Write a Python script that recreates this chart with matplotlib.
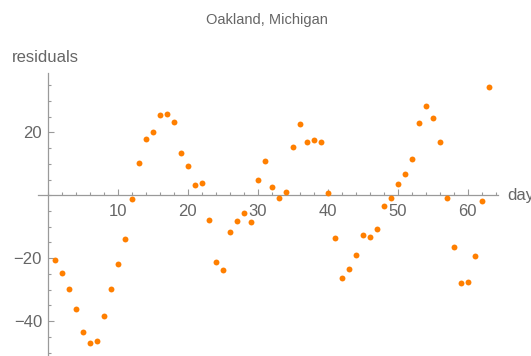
import numpy as np
import matplotlib
matplotlib.use('Agg')
import matplotlib.pyplot as plt
from matplotlib.ticker import MultipleLocator

# Данные: остатки по дням
days = list(range(1, 64))
residuals = [
    -20.5, -24.8, -29.9, -36.0, -43.5, -46.9, -46.2, -38.4, -29.7, -21.8,
    -14.0, -1.2, 10.3, 17.9, 20.1, 25.6, 25.9, 23.4, 13.4, 9.4,
    3.3, 3.8, -8.0, -21.3, -23.9, -11.6, -8.3, -5.7, -8.6, 4.8,
    10.8, 2.7, -0.7, 1.2, 15.4, 22.6, 16.8, 17.5, 16.9, 0.8,
    -13.7, -26.3, -23.4, -19.0, -12.7, -13.3, -10.6, -3.3, -0.7, 3.5,
    6.7, 11.4, 22.9, 28.4, 24.6, 17.0, -1.0, -16.4, -28.0, -27.6,
    -19.4, -1.8, 34.5,
]
x_ticks = [10, 20, 30, 40, 50, 60]
y_ticks = [-40, -20, 20]

title_text = 'Oakland, Michigan'
x_label = 'days'
y_label = 'residuals'

TEXT_COLOR = '#666666'
AXIS_COLOR = '#9a9a9a'
POINT_COLOR = '#ff7f00'


def plot_residuals():
    plt.rcParams['font.family'] = ['Liberation Sans', 'DejaVu Sans']

    fig = plt.figure(figsize=(5.31, 3.56), dpi=100)
    ax = fig.add_axes([38 / 531, 0, (497.7 - 38) / 531, (356 - 73.3) / 356])

    ax.scatter(days, residuals, s=18, color=POINT_COLOR, linewidths=0,
               clip_on=False, zorder=3)

    ax.set_xlim(-1.36, 64.3)
    ax.set_ylim(-51.1, 38.8)

    # оси через ноль, как в Mathematica
    ax.spines['left'].set_position(('data', 0))
    ax.spines['bottom'].set_position(('data', 0))
    ax.spines['top'].set_visible(False)
    ax.spines['right'].set_visible(False)
    for side in ('left', 'bottom'):
        ax.spines[side].set_color(AXIS_COLOR)
        ax.spines[side].set_linewidth(0.9)

    ax.set_xticks(x_ticks)
    ax.set_yticks(y_ticks)
    ax.xaxis.set_minor_locator(MultipleLocator(2))
    ax.yaxis.set_minor_locator(MultipleLocator(5))
    ax.tick_params(which='both', direction='in', color=AXIS_COLOR,
                   labelcolor=TEXT_COLOR, labelsize=12, width=0.8)
    ax.tick_params(which='major', length=4)
    ax.tick_params(which='minor', length=2.3)
    ax.tick_params(axis='x', pad=6)
    ax.tick_params(axis='y', pad=4)

    ax.patch.set_alpha(0)

    fig.text(267 / 531, 1 - 20 / 356, title_text, ha='center', va='center',
             fontsize=10.5, color=TEXT_COLOR)
    fig.text(12 / 531, 1 - 58 / 356, y_label, ha='left', va='center',
             fontsize=12, color=TEXT_COLOR)
    # подпись оси x обрезана краем, как в оригинале
    ax.text(64.3 + 9.5 / 7, 0, x_label, ha='left', va='center',
            fontsize=12, color=TEXT_COLOR, clip_on=False)

    fig.savefig('out.png', dpi=100)


plot_residuals()
